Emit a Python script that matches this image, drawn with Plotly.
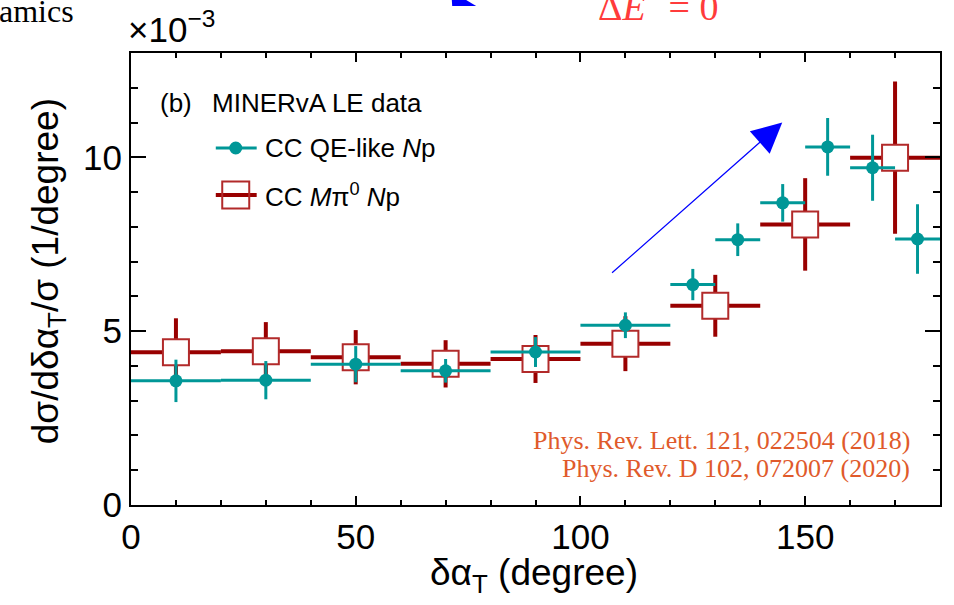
import plotly.graph_objects as go

# --- data (y in units of 1e-3 / degree) ---
qe_x = [10, 30, 50, 70, 90, 110, 125, 135, 145, 155, 165, 175]
qe_xerr = [10, 10, 10, 10, 10, 10, 5, 5, 5, 5, 5, 5]
qe_y = [3.57, 3.59, 4.05, 3.86, 4.40, 5.17, 6.34, 7.63, 8.69, 10.30, 9.70, 7.65]
qe_yerr = [0.61, 0.55, 0.52, 0.34, 0.43, 0.37, 0.45, 0.47, 0.54, 0.83, 0.95, 1.00]

mpi_x = [10, 30, 50, 70, 90, 110, 130, 150, 170]
mpi_xerr = [10, 10, 10, 10, 10, 10, 10, 10, 10]
mpi_y = [4.39, 4.42, 4.25, 4.06, 4.20, 4.64, 5.73, 8.07, 9.99]
mpi_yerr = [0.98, 0.84, 0.78, 0.68, 0.69, 0.79, 0.89, 1.33, 2.19]

x_ticks = [0, 50, 100, 150]
y_ticks = [0, 5, 10]

TEAL = '#009797'
DRED = '#990000'
BOX = '#b22a2a'
REFC = '#e05a2b'
SANS = 'Liberation Sans, Arial, sans-serif'
SERIF = 'Liberation Serif, Times New Roman, serif'

W, H = 954, 605
ML, MR, MT, MB = 131, 12, 53, 100
PW, PH = W - ML - MR, H - MT - MB


def px(x):
    return (x - ML) / PW


def py(y):
    return (H - MB - y) / PH


fig = go.Figure()

fig.add_trace(go.Scatter(
    x=mpi_x, y=mpi_y, mode='markers', name='CC Mpi0 Np', showlegend=False,
    error_x=dict(type='data', array=mpi_xerr, color=DRED, thickness=4, width=0),
    error_y=dict(type='data', array=mpi_yerr, color=DRED, thickness=4, width=0),
    marker=dict(symbol='square', size=26, color='white', line=dict(color=BOX, width=2)),
))
fig.add_trace(go.Scatter(
    x=qe_x, y=qe_y, mode='markers', name='CC QE-like Np', showlegend=False,
    error_x=dict(type='data', array=qe_xerr, color=TEAL, thickness=3, width=0),
    error_y=dict(type='data', array=qe_yerr, color=TEAL, thickness=3, width=0),
    marker=dict(symbol='circle', size=13, color=TEAL),
))

ann = []
# axis titles
ann.append(dict(text='dσ/dδα<sub>T</sub>/σ (1/degree)', textangle=-90, x=px(48), y=py(271),
                xanchor='center', yanchor='middle', font=dict(size=37, family=SANS)))
ann.append(dict(text='δα<sub>T</sub> (degree)', x=px(535), y=py(575), borderpad=0,
                xanchor='center', yanchor='middle', font=dict(size=37, family=SANS)))
ann.append(dict(text='×10<sup>−3</sup>', x=px(126), y=py(51), xanchor='left', yanchor='bottom',
                font=dict(size=35, family=SANS)))
# legend text
ann.append(dict(text='(b)', x=px(158), y=py(103), xanchor='left', yanchor='middle',
                font=dict(size=26, family=SANS)))
ann.append(dict(text='MINERvA LE data', x=px(210), y=py(103), xanchor='left', yanchor='middle',
                font=dict(size=26, family=SANS)))
ann.append(dict(text='CC QE-like <i>N</i>p', x=px(263), y=py(148), xanchor='left', yanchor='middle',
                font=dict(size=26, family=SANS)))
ann.append(dict(text='CC <i>M</i>π<sup>0</sup> <i>N</i>p', x=px(263), y=py(195), xanchor='left',
                yanchor='middle', font=dict(size=26, family=SANS)))
# references
ann.append(dict(text='Phys. Rev. Lett. 121, 022504 (2018)', x=px(914), y=py(440), xanchor='right',
                yanchor='middle', font=dict(size=26, family=SERIF, color=REFC)))
ann.append(dict(text='Phys. Rev. D 102, 072007 (2020)', x=px(914), y=py(468), xanchor='right',
                yanchor='middle', font=dict(size=26, family=SERIF, color=REFC)))
# clipped bits from the panel above
ann.append(dict(text='amics', x=px(-3), y=py(31), xanchor='left', yanchor='bottom',
                font=dict(size=32, family=SERIF, color='black')))
ann.append(dict(text='Δ<i>E</i><sup>*</sup> = 0', x=px(597), y=py(30), xanchor='left', yanchor='bottom',
                font=dict(size=38, family=SERIF, color='#ff3b3b')))
# blue arrow
ann.append(dict(x=144.9, y=11.0, ax=106.7, ay=6.64, xref='x', yref='y', axref='x', ayref='y',
                text='', showarrow=True, arrowhead=2, arrowsize=5, arrowwidth=1.2, arrowcolor='#0000ff'))
for a in ann:
    a.setdefault('xref', 'paper')
    a.setdefault('yref', 'paper')
    a.setdefault('showarrow', False)

shapes = [
    dict(type='line', xref='paper', yref='paper', x0=px(216), x1=px(257), y0=py(148), y1=py(148),
         line=dict(color=TEAL, width=3)),
    dict(type='circle', xref='paper', yref='paper', xsizemode='pixel', ysizemode='pixel',
         xanchor=px(236), yanchor=py(148), x0=-6.5, x1=6.5, y0=-6.5, y1=6.5,
         fillcolor=TEAL, line=dict(width=0)),
    dict(type='line', xref='paper', yref='paper', x0=px(216), x1=px(257), y0=py(195), y1=py(195),
         line=dict(color=DRED, width=4)),
    dict(type='rect', xref='paper', yref='paper', xsizemode='pixel', ysizemode='pixel',
         xanchor=px(236), yanchor=py(195), x0=-13.5, x1=13.5, y0=-13.5, y1=13.5,
         fillcolor='rgba(0,0,0,0)', line=dict(color=BOX, width=2)),
    dict(type='path', xref='paper', yref='paper',
         path=f'M{px(453)},{py(6)} L{px(477)},{py(6)} L{px(452)},{py(-9)} Z',
         fillcolor='#0000ff', line=dict(width=0)),
]

axis_common = dict(showline=True, linecolor='black', linewidth=2, mirror='ticks', ticks='inside',
                   tickcolor='black', tickwidth=1.5, showgrid=False, zeroline=False,
                   tickfont=dict(size=35, family=SANS, color='black'))

fig.update_xaxes(range=[0, 180], tickvals=x_ticks, ticklen=9,
                 minor=dict(dtick=10, ticklen=5, ticks='inside', tickcolor='black', tickwidth=1.5),
                 **axis_common)
fig.update_yaxes(range=[0, 13], tickvals=y_ticks, ticklen=15,
                 minor=dict(dtick=1, ticklen=7, ticks='inside', tickcolor='black', tickwidth=1.5),
                 **axis_common)

fig.update_layout(width=W, height=H, margin=dict(l=ML, r=MR, t=MT, b=MB),
                  plot_bgcolor='white', paper_bgcolor='white',
                  font=dict(family=SANS, color='black'),
                  annotations=ann, shapes=shapes, showlegend=False)

# drop the default page margin so the figure sits at the window corner
fig.write_html("out.html", config={'displayModeBar': False},
               post_script="document.body.style.margin='0';")
